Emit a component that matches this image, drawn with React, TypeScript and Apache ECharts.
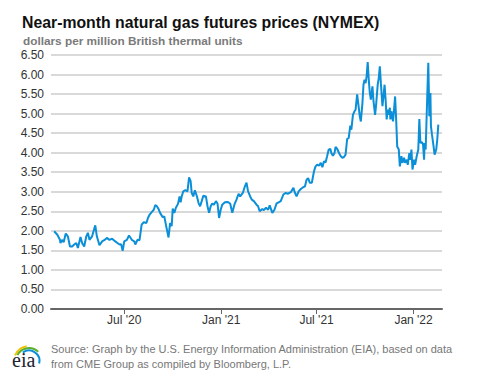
import React, { useEffect, useRef } from "react";
import * as echarts from "echarts";

const titleText = "Near-month natural gas futures prices (NYMEX)";
const subtitleText = "dollars per million British thermal units";
const sourceLines = [
  "Source: Graph by the U.S. Energy Information Administration (EIA), based on data",
  "from CME Group as compiled by Bloomberg, L.P.",
];

const axisStart = "2020-02-13";
const axisEnd = "2022-02-24";
const monthNames = ["Jan", "Feb", "Mar", "Apr", "May", "Jun", "Jul", "Aug", "Sep", "Oct", "Nov", "Dec"];

const yMin = 0;
const yMax = 6.5;
const yStep = 0.5;

const dates = [
  "2020-02-19", "2020-02-25", "2020-03-01", "2020-03-02", "2020-03-05", "2020-03-08", "2020-03-12", "2020-03-16",
  "2020-03-20", "2020-03-24", "2020-03-28", "2020-04-01", "2020-04-04", "2020-04-09", "2020-04-12", "2020-04-16",
  "2020-04-20", "2020-04-23", "2020-04-26", "2020-05-01", "2020-05-07", "2020-05-10", "2020-05-15", "2020-05-20",
  "2020-05-24", "2020-05-29", "2020-06-03", "2020-06-08", "2020-06-14", "2020-06-18", "2020-06-22", "2020-06-25",
  "2020-06-28", "2020-07-01", "2020-07-06", "2020-07-10", "2020-07-16", "2020-07-20", "2020-07-22", "2020-07-26",
  "2020-07-30", "2020-08-03", "2020-08-07", "2020-08-12", "2020-08-15", "2020-08-18", "2020-08-22", "2020-08-26",
  "2020-08-29", "2020-09-01", "2020-09-04", "2020-09-07", "2020-09-12", "2020-09-15", "2020-09-18", "2020-09-20",
  "2020-09-23", "2020-09-26", "2020-09-29", "2020-10-01", "2020-10-04", "2020-10-07", "2020-10-11", "2020-10-14",
  "2020-10-16", "2020-10-18", "2020-10-21", "2020-10-25", "2020-10-29", "2020-11-01", "2020-11-04", "2020-11-06",
  "2020-11-09", "2020-11-12", "2020-11-16", "2020-11-19", "2020-11-22", "2020-11-25", "2020-11-28", "2020-12-03",
  "2020-12-06", "2020-12-09", "2020-12-12", "2020-12-15", "2020-12-18", "2020-12-22", "2020-12-25", "2020-12-28",
  "2020-12-31", "2021-01-03", "2021-01-08", "2021-01-13", "2021-01-18", "2021-01-22", "2021-01-26", "2021-01-30",
  "2021-02-03", "2021-02-06", "2021-02-11", "2021-02-15", "2021-02-18", "2021-02-21", "2021-02-25", "2021-02-28",
  "2021-03-04", "2021-03-09", "2021-03-12", "2021-03-15", "2021-03-20", "2021-03-23", "2021-03-27", "2021-03-31",
  "2021-04-03", "2021-04-08", "2021-04-12", "2021-04-16", "2021-04-20", "2021-04-24", "2021-04-29", "2021-05-03",
  "2021-05-08", "2021-05-13", "2021-05-18", "2021-05-21", "2021-05-24", "2021-05-28", "2021-06-01", "2021-06-05",
  "2021-06-09", "2021-06-12", "2021-06-15", "2021-06-18", "2021-06-22", "2021-06-26", "2021-06-29", "2021-07-02",
  "2021-07-06", "2021-07-09", "2021-07-12", "2021-07-15", "2021-07-18", "2021-07-21", "2021-07-24", "2021-07-27",
  "2021-07-29", "2021-08-01", "2021-08-04", "2021-08-06", "2021-08-09", "2021-08-13", "2021-08-16", "2021-08-19",
  "2021-08-22", "2021-08-25", "2021-08-28", "2021-08-31", "2021-09-03", "2021-09-05", "2021-09-08", "2021-09-11",
  "2021-09-13", "2021-09-16", "2021-09-18", "2021-09-21", "2021-09-23", "2021-09-26", "2021-09-28", "2021-09-30",
  "2021-10-02", "2021-10-04", "2021-10-06", "2021-10-08", "2021-10-10", "2021-10-12", "2021-10-15", "2021-10-17",
  "2021-10-20", "2021-10-22", "2021-10-25", "2021-10-27", "2021-10-29", "2021-10-31", "2021-11-03", "2021-11-05",
  "2021-11-07", "2021-11-09", "2021-11-11", "2021-11-13", "2021-11-15", "2021-11-17", "2021-11-18", "2021-11-20",
  "2021-11-23", "2021-11-25", "2021-11-27", "2021-11-29", "2021-12-01", "2021-12-04", "2021-12-06", "2021-12-09",
  "2021-12-11", "2021-12-14", "2021-12-16", "2021-12-19", "2021-12-21", "2021-12-24", "2021-12-26", "2021-12-28",
  "2021-12-30", "2022-01-02", "2022-01-04", "2022-01-07", "2022-01-10", "2022-01-12", "2022-01-14", "2022-01-17",
  "2022-01-19", "2022-01-21", "2022-01-22", "2022-01-24", "2022-01-27", "2022-01-29", "2022-01-31", "2022-02-02",
  "2022-02-03", "2022-02-05", "2022-02-08", "2022-02-10", "2022-02-13", "2022-02-15", "2022-02-17",
];

const prices = [
  1.99, 1.90, 1.77, 1.69, 1.77, 1.71, 1.93, 1.86,
  1.60, 1.60, 1.65, 1.69, 1.56, 1.84, 1.69, 1.60,
  1.86, 1.95, 1.77, 1.86, 2.14, 1.86, 1.63, 1.73,
  1.76, 1.82, 1.77, 1.80, 1.73, 1.69, 1.65, 1.66,
  1.49, 1.73, 1.77, 1.88, 1.76, 1.73, 1.65, 1.77,
  1.76, 2.16, 2.22, 2.20, 2.33, 2.41, 2.48, 2.54,
  2.66, 2.63, 2.56, 2.46, 2.35, 2.37, 2.16, 2.03,
  1.83, 2.20, 2.12, 2.57, 2.46, 2.59, 2.69, 2.88,
  2.73, 2.88, 3.01, 3.04, 3.01, 3.37, 3.27, 2.97,
  2.88, 3.04, 2.88, 2.71, 2.63, 2.76, 2.90, 2.88,
  2.63, 2.46, 2.63, 2.70, 2.67, 2.76, 2.70, 2.33,
  2.54, 2.67, 2.73, 2.74, 2.70, 2.46, 2.67, 2.80,
  2.95, 2.88, 2.97, 3.14, 3.23, 3.01, 2.88, 2.80,
  2.76, 2.67, 2.63, 2.50, 2.56, 2.53, 2.59, 2.54,
  2.65, 2.46, 2.54, 2.70, 2.73, 2.76, 2.93, 2.97,
  2.95, 2.99, 3.10, 2.97, 2.88, 3.01, 3.07, 3.11,
  3.14, 3.31, 3.35, 3.23, 3.23, 3.52, 3.65, 3.69,
  3.67, 3.74, 3.63, 3.78, 3.75, 3.91, 4.08, 4.10,
  3.99, 3.92, 3.99, 4.15, 4.10, 3.98, 3.91, 3.87,
  3.89, 3.95, 4.35, 4.38, 4.69, 4.59, 4.97, 5.06,
  5.10, 5.49, 5.27, 4.93, 4.80, 5.27, 5.74, 5.87,
  5.78, 5.96, 6.32, 5.87, 5.53, 5.36, 5.70, 5.32,
  4.97, 5.23, 5.74, 5.91, 6.21, 5.78, 5.19, 5.44,
  5.74, 5.36, 4.85, 5.10, 4.97, 5.15, 4.85, 5.06,
  4.80, 5.10, 5.44, 4.85, 4.16, 4.08, 3.65, 3.91,
  3.74, 3.87, 3.74, 3.82, 3.69, 3.99, 3.82, 4.08,
  3.57, 3.82, 3.69, 3.91, 4.08, 4.86, 4.25, 4.27,
  4.21, 3.82, 4.25, 4.08, 5.44, 6.30, 4.93, 5.53,
  4.68, 4.46, 4.16, 3.95, 4.08, 4.33, 4.72,
];

function buildDays(start: string, end: string): string[] {
  const out: string[] = [];
  let t = Date.parse(start + "T00:00:00Z");
  const e = Date.parse(end + "T00:00:00Z");
  while (t <= e) {
    out.push(new Date(t).toISOString().slice(0, 10));
    t += 86400000;
  }
  return out;
}

function isHalfYear(d: string): boolean {
  return d.endsWith("-01-01") || d.endsWith("-07-01");
}

function fmtTick(d: string): string {
  const m = parseInt(d.slice(5, 7), 10);
  return monthNames[m - 1] + " '" + d.slice(2, 4);
}

export default function App() {
  const ref = useRef<HTMLDivElement>(null);

  useEffect(() => {
    if (!ref.current) return;
    const chart = echarts.init(ref.current, null, { renderer: "svg" });
    const days = buildDays(axisStart, axisEnd);
    const idx: Record<string, number> = {};
    days.forEach((d, i) => (idx[d] = i));
    const seriesData = dates.map((d, i) => [idx[d], prices[i]]);

    const font = "Arial, 'Liberation Sans', sans-serif";

    chart.setOption({
      animation: false,
      backgroundColor: "#ffffff",
      title: [
        {
          text: titleText,
          left: 17,
          top: 9,
          textStyle: { fontFamily: font, fontSize: 15.8, fontWeight: "bold", color: "#111111" },
        },
        {
          text: subtitleText,
          left: 18,
          top: 30,
          textStyle: { fontFamily: font, fontSize: 11.8, fontWeight: "bold", color: "#7a7a7a" },
        },
      ],
      grid: { left: 51, right: 35, top: 55, bottom: 70, containLabel: false },
      xAxis: {
        type: "category",
        data: days,
        boundaryGap: false,
        axisLine: { show: true, lineStyle: { color: "#666666", width: 2 } },
        axisTick: {
          show: true,
          interval: (_i: number, v: string) => isHalfYear(v),
          length: 5,
          lineStyle: { color: "#666666", width: 1 },
        },
        axisLabel: {
          interval: (_i: number, v: string) => isHalfYear(v),
          formatter: (v: string) => fmtTick(v),
          fontFamily: font,
          fontSize: 12,
          color: "#333333",
          margin: 5,
        },
        splitLine: { show: false },
      },
      yAxis: {
        type: "value",
        min: yMin,
        max: yMax,
        interval: yStep,
        axisLine: { show: false },
        axisTick: { show: false },
        axisLabel: {
          formatter: (v: number) => v.toFixed(2),
          fontFamily: font,
          fontSize: 12,
          color: "#333333",
          margin: 7,
          verticalAlign: "middle",
          padding: [3, 0, 0, 0],
        },
        splitLine: { lineStyle: { color: "#cccccc", width: 1.5 } },
      },
      series: [
        {
          type: "line",
          data: seriesData,
          showSymbol: false,
          symbol: "none",
          connectNulls: true,
          lineStyle: { color: "#0a8fd8", width: 2 },
          itemStyle: { color: "#0a8fd8" },
        },
      ],
      graphic: [
        {
          type: "text",
          left: 51,
          top: 341,
          style: {
            text: sourceLines.join("\n"),
            fontFamily: font,
            fontSize: 11,
            lineHeight: 15,
            fill: "#777777",
          },
        },
        {
          type: "arc",
          shape: { cx: 29, cy: 361, r: 15, startAngle: Math.PI * 1.12, endAngle: Math.PI * 1.45 },
          style: { stroke: "#f2c200", lineWidth: 2, fill: "none" },
        },
        {
          type: "arc",
          shape: { cx: 29, cy: 361, r: 13, startAngle: Math.PI * 1.15, endAngle: Math.PI * 1.75 },
          style: { stroke: "#5cb030", lineWidth: 2, fill: "none" },
        },
        {
          type: "arc",
          shape: { cx: 29, cy: 361, r: 10.5, startAngle: Math.PI * 1.3, endAngle: Math.PI * 2.08 },
          style: { stroke: "#0a8fd8", lineWidth: 2, fill: "none" },
        },
        {
          type: "text",
          left: 12,
          top: 350,
          style: {
            text: "eia",
            fontFamily: "'Liberation Serif', 'DejaVu Serif', serif",
            fontSize: 20,
            fill: "#1c2330",
          },
        },
      ],
    });

    return () => chart.dispose();
  }, []);

  return (
    <div
      ref={ref}
      style={{ position: "fixed", left: 0, top: 0, width: 477, height: 379 }}
    />
  );
}
